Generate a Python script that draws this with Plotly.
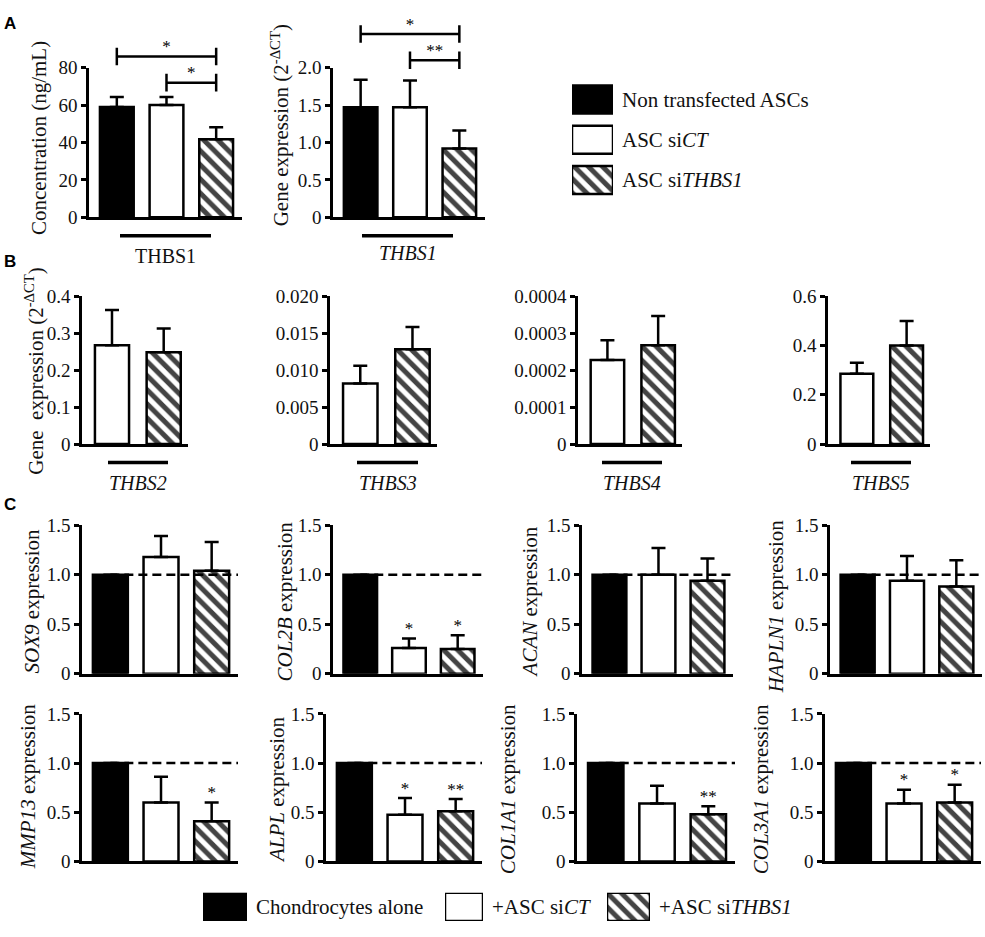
import plotly.graph_objects as go

W, H = 985, 937
SERIF = "Liberation Serif"
SANS = "Liberation Sans"

# ---- values ----
groups_a = ["Non transfected ASCs", "ASC si<i>CT</i>", "ASC si<i>THBS1</i>"]
groups_c = ["Chondrocytes alone", "+ASC si<i>CT</i>", "+ASC si<i>THBS1</i>"]

# A: THBS1 protein (ng/mL) and THBS1 mRNA (2^-dCT), mean and SEM
thbs1_protein = [59.0, 60.0, 41.7]
thbs1_protein_sem = [5.3, 4.3, 6.4]
thbs1_protein_ticks = [0, 20, 40, 60, 80]
thbs1_protein_ticktext = ["0", "20", "40", "60", "80"]
thbs1_mrna = [1.47, 1.47, 0.92]
thbs1_mrna_sem = [0.37, 0.36, 0.24]
thbs1_mrna_ticks = [0, 0.5, 1.0, 1.5, 2.0]
thbs1_mrna_ticktext = ["0", "0.5", "1.0", "1.5", "2.0"]
# significance brackets: (from bar, to bar, bracket height, label)
sig_protein = [(0, 2, 86.0, "*"), (1, 2, 72.0, "*")]
sig_mrna = [(0, 2, 2.45, "*"), (1, 2, 2.10, "**")]

# B: other thrombospondins, siCT vs siTHBS1
genes_b = ["THBS2", "THBS3", "THBS4", "THBS5"]
b_sict = [0.268, 0.0082, 0.000228, 0.286]
b_sict_sem = [0.095, 0.0024, 0.000053, 0.044]
b_sithbs1 = [0.249, 0.01285, 0.000268, 0.401]
b_sithbs1_sem = [0.064, 0.0030, 0.000079, 0.099]
b_ticks = [
    [0, 0.1, 0.2, 0.3, 0.4],
    [0, 0.005, 0.010, 0.015, 0.020],
    [0, 0.0001, 0.0002, 0.0003, 0.0004],
    [0, 0.2, 0.4, 0.6],
]
b_ticktext = [
    ["0", "0.1", "0.2", "0.3", "0.4"],
    ["0", "0.005", "0.010", "0.015", "0.020"],
    ["0", "0.0001", "0.0002", "0.0003", "0.0004"],
    ["0", "0.2", "0.4", "0.6"],
]

# C: chondrocyte markers, relative to chondrocytes alone
genes_c = ["SOX9", "COL2B", "ACAN", "HAPLN1", "MMP13", "ALPL", "COL1A1", "COL3A1"]
c_alone = [1, 1, 1, 1, 1, 1, 1, 1]
c_alone_sem = [0, 0, 0, 0, 0, 0, 0, 0]
c_sict = [1.18, 0.26, 1.0, 0.94, 0.60, 0.475, 0.59, 0.59]
c_sict_sem = [0.21, 0.095, 0.27, 0.25, 0.26, 0.17, 0.18, 0.14]
c_sithbs1 = [1.04, 0.25, 0.94, 0.88, 0.41, 0.51, 0.48, 0.60]
c_sithbs1_sem = [0.29, 0.14, 0.225, 0.265, 0.19, 0.125, 0.08, 0.18]
c_sict_stars = ["", "*", "", "", "", "*", "", "*"]
c_sithbs1_stars = ["", "*", "", "", "*", "**", "**", "*"]
c_ticks = [0, 0.5, 1.0, 1.5]
c_ticktext = ["0", "0.5", "1.0", "1.5"]

FILLS = ["black", "white", "white"]
HATCH = ["", "", "\\"]
LINE = dict(color="black", width=2.5)
PATTERN = dict(fgcolor="black", bgcolor="white", fgopacity=1, size=10, solidity=0.5)
TICKFONT = dict(family=SERIF, size=19, color="#111")

fig = go.Figure()
n_axes = [0]


def dom_x(a, b):
    return [a / W, b / W]


def dom_y(top, bottom):
    return [1 - bottom / H, 1 - top / H]


def add_axes(x_px, y_px, x_range, y_range, tickvals=None, ticktext=None):
    n_axes[0] += 1
    k = "" if n_axes[0] == 1 else str(n_axes[0])
    fig.update_layout({
        "xaxis" + k: dict(domain=dom_x(*x_px), range=x_range, anchor="y" + k,
                          showline=True, linecolor="black", linewidth=2.5,
                          ticks="", showticklabels=False, showgrid=False, zeroline=False),
        "yaxis" + k: dict(domain=dom_y(*y_px), range=y_range, anchor="x" + k,
                          showline=True, linecolor="black", linewidth=2.5,
                          ticks="outside", ticklen=5, tickwidth=2.5, tickcolor="black",
                          tickvals=tickvals, ticktext=ticktext, tickfont=TICKFONT,
                          showgrid=False, zeroline=False),
    })
    return "x" + k, "y" + k


def add_overlay(xa, y_px, y_range):
    # invisible y axis on the same data scale, reaching up to the top of the page
    n_axes[0] += 1
    k = str(n_axes[0])
    bottom, top = y_px[1], y_px[0]
    ymax = y_range[1] * bottom / (bottom - top)
    fig.update_layout({"yaxis" + k: dict(domain=dom_y(0, bottom), range=[0, ymax],
                                         anchor=xa, visible=False)})
    return "y" + k, 9 * y_range[1] / (bottom - top)


def bars(xa, ya, means, sems, fills, hatch, width):
    fig.add_trace(go.Bar(
        x=list(range(len(means))), y=means, width=width, xaxis=xa, yaxis=ya,
        marker=dict(color=fills, line=LINE, pattern=dict(shape=hatch, **PATTERN)),
        error_y=dict(type="data", array=sems, arrayminus=[0] * len(sems), symmetric=False,
                     color="black", thickness=2.5, width=7),
        cliponaxis=False, hoverinfo="skip",
    ))


def stars(xa, ya, xs, ys, labels):
    keep = [n for n, s in enumerate(labels) if s]
    if not keep:
        return
    fig.add_trace(go.Scatter(
        x=[xs[n] for n in keep], y=[ys[n] for n in keep], text=[labels[n] for n in keep],
        mode="text", textposition="top center",
        textfont=dict(family=SERIF, size=17, color="black"),
        xaxis=xa, yaxis=ya, cliponaxis=False, hoverinfo="skip",
    ))


def brackets(xa, ya, sigs, cap):
    for i, j, h, label in sigs:
        fig.add_trace(go.Scatter(
            x=[i, j], y=[h, h], mode="lines", line=dict(color="black", width=2.5),
            error_y=dict(type="constant", value=cap, color="black", thickness=2.5, width=0),
            xaxis=xa, yaxis=ya, hoverinfo="skip",
        ))
        stars(xa, ya, [(i + j) / 2], [h], [label])


def y_title(x, y, text):
    fig.add_annotation(x=x / W, y=1 - y / H, xref="paper", yref="paper", text=text,
                       textangle=-90, showarrow=False, xanchor="center", yanchor="middle",
                       font=dict(family=SERIF, size=21, color="#111"))


def group_label(x0, x1, y_line, y_text, text):
    fig.add_shape(type="line", xref="paper", yref="paper", x0=x0 / W, x1=x1 / W,
                  y0=1 - y_line / H, y1=1 - y_line / H, line=dict(color="black", width=3.5))
    fig.add_annotation(x=(x0 + x1) / 2 / W, y=1 - y_text / H, xref="paper", yref="paper",
                       text=text, showarrow=False, xanchor="center", yanchor="middle",
                       font=dict(family=SERIF, size=20, color="#111"))


def panel_letter(y, text):
    fig.add_annotation(x=2 / W, y=1 - y / H, xref="paper", yref="paper", text="<b>%s</b>" % text,
                       showarrow=False, xanchor="left", yanchor="middle",
                       font=dict(family=SANS, size=17, color="black"))


def legend_box(x_px, y_px, y_range, names, fills, hatch, width):
    n_axes[0] += 1
    k = str(n_axes[0])
    fig.update_layout({
        "xaxis" + k: dict(domain=dom_x(*x_px), range=[0, 1], anchor="y" + k, visible=False),
        "yaxis" + k: dict(domain=dom_y(*y_px), range=y_range, anchor="x" + k, side="right",
                          showline=False, ticks="", showgrid=False, zeroline=False,
                          ticklabelstandoff=8,
                          tickfont=dict(family=SERIF, size=21, color="#111")),
    })
    fig.add_trace(go.Bar(
        x=[1] * len(names), y=names, orientation="h", width=width,
        xaxis="x" + k, yaxis="y" + k,
        marker=dict(color=fills, line=LINE, pattern=dict(shape=hatch, **PATTERN)),
        cliponaxis=False, hoverinfo="skip",
    ))


RANGE3 = [-0.56, 2.52]
RANGE2 = [-0.58, 1.47]

# ---- A ----
panel_letter(14, "A")
a_specs = [
    ((89, 242), thbs1_protein, thbs1_protein_sem, thbs1_protein_ticks, thbs1_protein_ticktext,
     sig_protein, (39, 131, "Concentration (ng/mL)"), (120, 211, 252, "THBS1")),
    ((333, 485), thbs1_mrna, thbs1_mrna_sem, thbs1_mrna_ticks, thbs1_mrna_ticktext,
     sig_mrna, (280, 118, "Gene expression (2<sup>-ΔCT</sup>)"), (362, 453, 249, "<i>THBS1</i>")),
]
for x_px, vals, sems, tv, tt, sigs, title, glabel in a_specs:
    xa, ya = add_axes(x_px, (59, 212), RANGE3, [0, tv[-1]], tv, tt)
    bars(xa, ya, vals, sems, FILLS, HATCH, 0.68)
    yo, cap = add_overlay(xa, (59, 212), [0, tv[-1]])
    brackets(xa, yo, sigs, cap)
    y_title(*title)
    group_label(glabel[0], glabel[1], 231, glabel[2], glabel[3])

legend_box((572, 613), (71, 194.5), [2.5, -0.5], groups_a, FILLS, HATCH, 0.7)

# ---- B ----
panel_letter(257, "B")
b_x = [(82, 188), (330, 437), (578, 682), (828, 930)]
b_under = [(108, 168), (357, 418), (602, 662), (851, 911)]
for i, gene in enumerate(genes_b):
    xa, ya = add_axes(b_x[i], (293, 444), RANGE2, [0, b_ticks[i][-1]], b_ticks[i], b_ticktext[i])
    bars(xa, ya, [b_sict[i], b_sithbs1[i]], [b_sict_sem[i], b_sithbs1_sem[i]],
         FILLS[1:], HATCH[1:], 0.66)
    group_label(b_under[i][0], b_under[i][1], 463, 484, "<i>%s</i>" % gene)
y_title(35, 370, "Gene&nbsp; expression (2<sup>-ΔCT</sup>)")

# ---- C ----
panel_letter(506, "C")
c_x = [(82, 238), (333, 483), (582, 733), (830, 982),
       (82, 238), (326, 482), (577, 735), (825, 981)]
c_y = [(527, 679)] * 4 + [(720, 871)] * 4
c_title = [(32, 605), (285, 605), (530, 606), (776, 610),
           (28, 795), (277, 798), (508, 797), (761, 797)]
for i, gene in enumerate(genes_c):
    xa, ya = add_axes(c_x[i], c_y[i], RANGE3, [0, c_ticks[-1]], c_ticks, c_ticktext)
    vals = [c_alone[i], c_sict[i], c_sithbs1[i]]
    sems = [c_alone_sem[i], c_sict_sem[i], c_sithbs1_sem[i]]
    bars(xa, ya, vals, sems, FILLS, HATCH, 0.69)
    fig.add_shape(type="line", xref=xa, yref=ya, x0=0, x1=RANGE3[1], y0=1, y1=1,
                  line=dict(color="black", width=2.5, dash="9px,5px"))
    stars(xa, ya, [1, 2], [vals[1] + sems[1], vals[2] + sems[2]],
          [c_sict_stars[i], c_sithbs1_stars[i]])
    y_title(c_title[i][0], c_title[i][1], "<i>%s</i> expression" % gene)

for name, fill, hatch, x_px in zip(groups_c, FILLS, HATCH, [(203, 247), (445, 483), (607, 650)]):
    legend_box(x_px, (903, 932), [-0.5, 0.5], [name], [fill], [hatch], 1.0)

fig.update_layout(
    width=W, height=H, margin=dict(l=0, r=0, t=0, b=0),
    paper_bgcolor="white", plot_bgcolor="rgba(0,0,0,0)", showlegend=False,
    font=dict(family=SERIF, color="#111"),
)

# the page body keeps the browser's default 8px margin otherwise
fig.write_html("out.html", config={"displayModeBar": False},
               post_script="document.body.style.margin = '0';")
